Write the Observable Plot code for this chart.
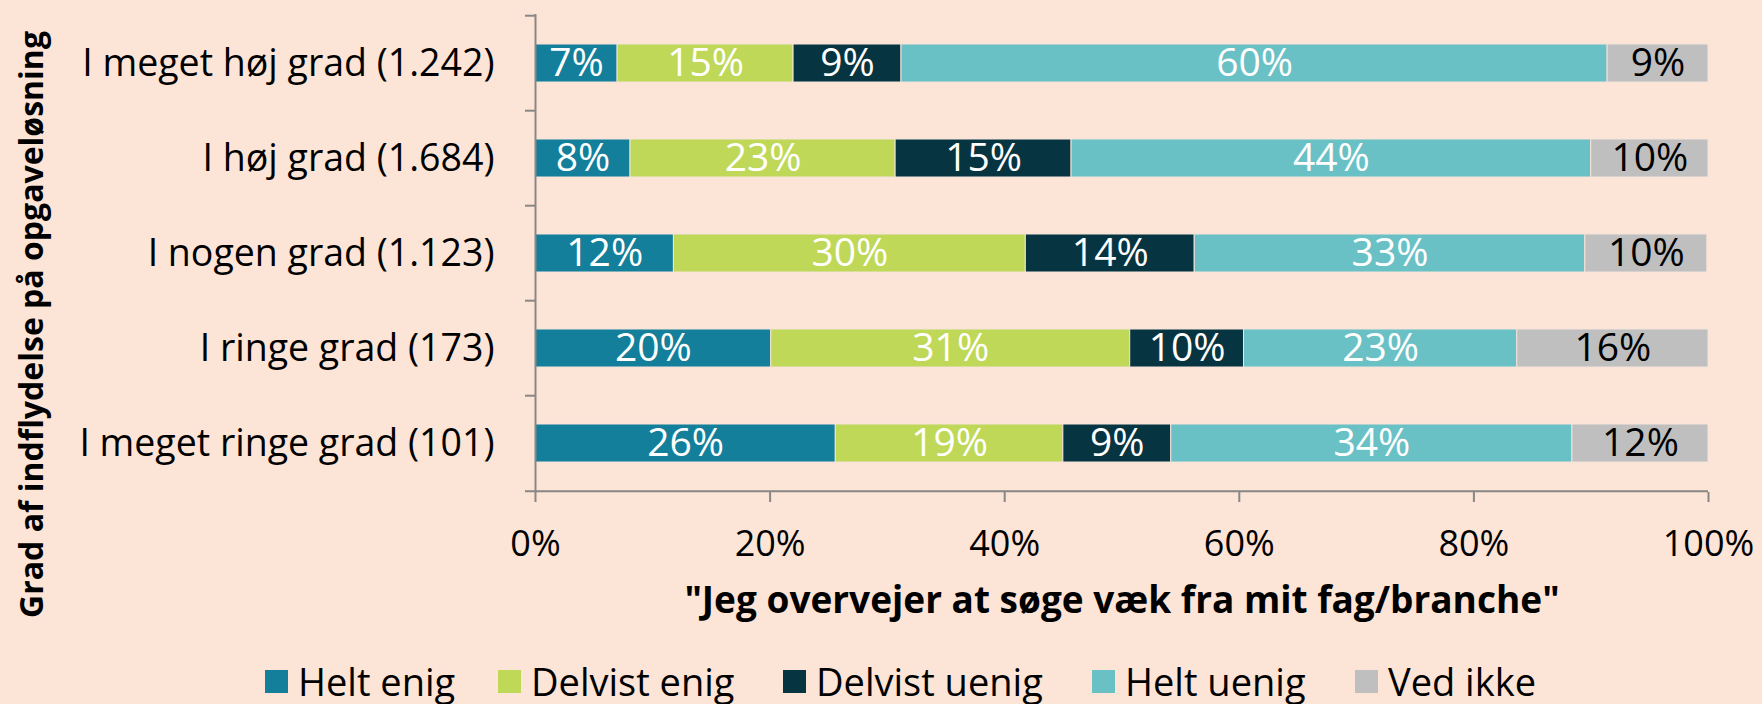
<!DOCTYPE html>
<html>
<head>
<meta charset="utf-8">
<script src="https://cdn.jsdelivr.net/npm/d3@7"></script>
<script src="https://cdn.jsdelivr.net/npm/@observablehq/plot@0.6"></script>
<style>
  html, body { margin: 0; padding: 0; }
  body { width: 1762px; height: 704px; overflow: hidden; background: #FCE4D6; font-family: 'Open Sans', sans-serif; position: relative; }
  #chart svg { display: block; }
  #legend { position: absolute; left: 0; top: 662px; height: 38px; width: 1762px; font-size: 38px; line-height: 1; color: #000; white-space: nowrap; }
  #legend .item { position: absolute; top: 0; height: 38px; display: flex; align-items: center; }
  #legend .sw { width: 23px; height: 23px; margin-right: 10px; display: inline-block; }
</style>
</head>
<body>
<div id="chart"></div>
<div id="legend"></div>
<script>
const categories = ["I meget høj grad (1.242)", "I høj grad (1.684)", "I nogen grad (1.123)", "I ringe grad (173)", "I meget ringe grad (101)"];
const series = ["Helt enig", "Delvist enig", "Delvist uenig", "Helt uenig", "Ved ikke"];
const colors = ["#137f9b", "#bfd857", "#073441", "#6ac1c5", "#bfbfbf"];
const heltEnig = [7.0, 8.1, 11.8, 20.1, 25.6];
const delvistEnig = [15.0, 22.6, 30.0, 30.6, 19.4];
const delvistUenig = [9.2, 15.0, 14.4, 9.7, 9.2];
const heltUenig = [60.2, 44.3, 33.3, 23.3, 34.2];
const vedIkke = [8.6, 10.0, 10.4, 16.3, 11.6];
const xTicks = [0, 20, 40, 60, 80, 100];
const xTitle = "\"Jeg overvejer at søge væk fra mit fag/branche\"";
const yTitle = "Grad af indflydelse på opgaveløsning";

const valuesBySeries = [heltEnig, delvistEnig, delvistUenig, heltUenig, vedIkke];
const data = [];
series.forEach((s, si) => categories.forEach((c, ci) => data.push({cat: c, series: s, value: valuesBySeries[si][ci]})));

const W = 1762, H = 650, mt = 14, axisBottom = 492, ml = 535, mr = 54;
const step = (axisBottom - mt) / categories.length;
const gray = "#878787";
const lab = d => Math.round(d.value) + "%";

const chart = Plot.plot({
  width: W, height: H,
  marginTop: mt, marginBottom: H - axisBottom, marginLeft: ml, marginRight: mr,
  style: {background: "transparent", fontFamily: "'Open Sans', sans-serif", fontSize: "36px", overflow: "visible"},
  x: {domain: [0, 100], label: null},
  y: {domain: categories, paddingInner: 0.6, paddingOuter: 0.3, label: null},
  color: {domain: series, range: colors},
  marks: [
    Plot.barX(data, Plot.stackX({x: "value", y: "cat", z: "series", fill: "series", stroke: "#f3e3da", strokeWidth: 1})),
    Plot.text(data, Plot.filter(d => d.series !== "Ved ikke", Plot.stackX({x: "value", y: "cat", z: "series", text: lab, fill: "white", fontSize: 39}))),
    Plot.text(data, Plot.filter(d => d.series === "Ved ikke", Plot.stackX({x: "value", y: "cat", z: "series", text: lab, fill: "black", fontSize: 39}))),
    Plot.ruleX([0], {stroke: gray, strokeWidth: 2}),
    Plot.ruleY([categories[categories.length - 1]], {dy: step / 2, stroke: gray, strokeWidth: 2, insetLeft: -10}),
    Plot.ruleY(categories, {x1: 0, x2: 0, insetLeft: -10, dy: -step / 2, stroke: gray, strokeWidth: 2}),
    Plot.axisY({tickSize: 0, tickPadding: 41, fontSize: 37.5, fill: "#000"}),
    Plot.axisX({ticks: xTicks, tickFormat: d => d + "%", tickSize: 10, tickPadding: 28, fontSize: 36, stroke: gray, strokeWidth: 2, fill: "#000", label: null}),
    Plot.text([xTitle], {text: d => d, frameAnchor: "bottom", textAnchor: "middle", lineAnchor: "middle", dy: 109, fontSize: 37, fontWeight: "bold", fill: "#000"}),
    Plot.text([yTitle], {text: d => d, frameAnchor: "left", textAnchor: "middle", lineAnchor: "middle", rotate: -90, dx: 32 - ml, dy: 71, fontSize: 32, fontWeight: "bold", fill: "#000"})
  ]
});
document.getElementById("chart").appendChild(chart);

const legendLeft = [265, 498, 783, 1092, 1355];
const legend = document.getElementById("legend");
series.forEach((s, i) => {
  const item = document.createElement("div");
  item.className = "item";
  item.style.left = legendLeft[i] + "px";
  const sw = document.createElement("span");
  sw.className = "sw";
  sw.style.background = colors[i];
  const t = document.createElement("span");
  t.textContent = s;
  item.appendChild(sw);
  item.appendChild(t);
  legend.appendChild(item);
});
</script>
</body>
</html>
